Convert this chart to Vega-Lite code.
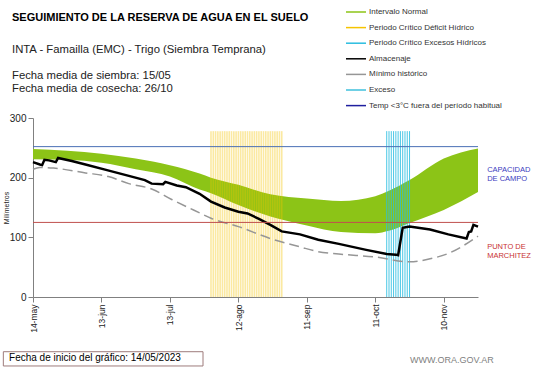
{
  "$schema": "https://vega.github.io/schema/vega-lite/v6.json",
  "autosize": {"type": "none"},
  "width": 445,
  "height": 179,
  "padding": {"left": 33, "top": 118, "right": 63, "bottom": 71},
  "background": "white",
  "config": {
    "view": {"stroke": null},
    "font": "Liberation Sans",
    "legend": {
      "orient": "none", "legendX": 312, "legendY": -117, "title": null,
      "labelFont": "Liberation Sans", "labelFontSize": 8, "labelColor": "#333",
      "symbolSize": 400, "symbolType": "stroke", "labelOffset": 2, "rowPadding": 0.6
    }
  },
  "title": {
    "text": "SEGUIMIENTO DE LA RESERVA DE AGUA  EN EL SUELO",
    "subtitle": ["INTA - Famailla (EMC) - Trigo (Siembra Temprana)", "\u200b", "Fecha media de siembra: 15/05", "Fecha media de cosecha: 26/10"],
    "anchor": "start", "frame": "group", "dx": -21, "offset": -93,
    "font": "Liberation Sans", "fontSize": 11, "fontWeight": "bold", "color": "#000",
    "subtitleFont": "Liberation Sans", "subtitleFontSize": 11.3, "subtitleColor": "#222",
    "subtitleLineHeight": 13, "subtitlePadding": 21
  },
  "datasets": {
    "uno": [{}],
    "banda": [
      {"d": "2023-05-14", "hi": 248, "lo": 231}, {"d": "2023-05-29", "hi": 245, "lo": 230},
      {"d": "2023-06-13", "hi": 240, "lo": 225}, {"d": "2023-06-28", "hi": 232, "lo": 214},
      {"d": "2023-07-13", "hi": 221, "lo": 202}, {"d": "2023-07-26", "hi": 207, "lo": 180},
      {"d": "2023-07-31", "hi": 200, "lo": 174}, {"d": "2023-08-12", "hi": 188, "lo": 154},
      {"d": "2023-08-26", "hi": 172, "lo": 135}, {"d": "2023-09-11", "hi": 165, "lo": 120},
      {"d": "2023-09-26", "hi": 161, "lo": 109}, {"d": "2023-10-11", "hi": 169, "lo": 107},
      {"d": "2023-10-17", "hi": 178, "lo": 111}, {"d": "2023-10-26", "hi": 196, "lo": 124},
      {"d": "2023-11-10", "hi": 232, "lo": 146}, {"d": "2023-11-25", "hi": 249, "lo": 176}
    ],
    "alm": [
      {"d": "2023-05-14", "v": 226}, {"d": "2023-05-17", "v": 222}, {"d": "2023-05-18", "v": 221},
      {"d": "2023-05-19", "v": 230}, {"d": "2023-05-21", "v": 229}, {"d": "2023-05-24", "v": 226},
      {"d": "2023-05-25", "v": 233}, {"d": "2023-05-31", "v": 228}, {"d": "2023-06-06", "v": 222},
      {"d": "2023-06-15", "v": 213}, {"d": "2023-06-25", "v": 203}, {"d": "2023-07-02", "v": 196},
      {"d": "2023-07-05", "v": 190}, {"d": "2023-07-10", "v": 189}, {"d": "2023-07-11", "v": 193},
      {"d": "2023-07-16", "v": 187}, {"d": "2023-07-20", "v": 184}, {"d": "2023-07-26", "v": 173},
      {"d": "2023-07-31", "v": 160}, {"d": "2023-08-06", "v": 150}, {"d": "2023-08-12", "v": 143},
      {"d": "2023-08-16", "v": 140}, {"d": "2023-08-21", "v": 131}, {"d": "2023-08-26", "v": 121},
      {"d": "2023-08-31", "v": 110}, {"d": "2023-09-08", "v": 105}, {"d": "2023-09-16", "v": 96},
      {"d": "2023-09-25", "v": 89}, {"d": "2023-10-07", "v": 79}, {"d": "2023-10-16", "v": 72},
      {"d": "2023-10-20", "v": 71}, {"d": "2023-10-21", "v": 70}, {"d": "2023-10-23", "v": 116},
      {"d": "2023-10-26", "v": 118}, {"d": "2023-11-04", "v": 113}, {"d": "2023-11-12", "v": 105},
      {"d": "2023-11-20", "v": 98}, {"d": "2023-11-21", "v": 109}, {"d": "2023-11-22", "v": 110},
      {"d": "2023-11-23", "v": 121}, {"d": "2023-11-25", "v": 118}
    ],
    "minimo": [
      {"d": "2023-05-14", "v": 214}, {"d": "2023-05-17", "v": 217}, {"d": "2023-05-23", "v": 216},
      {"d": "2023-06-06", "v": 208}, {"d": "2023-06-16", "v": 202}, {"d": "2023-06-25", "v": 190},
      {"d": "2023-07-05", "v": 181}, {"d": "2023-07-14", "v": 163}, {"d": "2023-07-26", "v": 141},
      {"d": "2023-07-31", "v": 132}, {"d": "2023-08-12", "v": 118}, {"d": "2023-08-26", "v": 98},
      {"d": "2023-09-08", "v": 84}, {"d": "2023-09-16", "v": 76}, {"d": "2023-09-25", "v": 72},
      {"d": "2023-10-11", "v": 67}, {"d": "2023-10-26", "v": 59}, {"d": "2023-11-04", "v": 64},
      {"d": "2023-11-12", "v": 73}, {"d": "2023-11-25", "v": 102}
    ],
    "deficit": [
      {"d": "2023-07-31"}, {"d": "2023-08-01"}, {"d": "2023-08-02"}, {"d": "2023-08-03"}, {"d": "2023-08-04"},
      {"d": "2023-08-05"}, {"d": "2023-08-06"}, {"d": "2023-08-07"}, {"d": "2023-08-08"}, {"d": "2023-08-09"},
      {"d": "2023-08-10"}, {"d": "2023-08-11"}, {"d": "2023-08-12"}, {"d": "2023-08-13"}, {"d": "2023-08-14"},
      {"d": "2023-08-15"}, {"d": "2023-08-16"}, {"d": "2023-08-17"}, {"d": "2023-08-18"}, {"d": "2023-08-19"},
      {"d": "2023-08-20"}, {"d": "2023-08-21"}, {"d": "2023-08-22"}, {"d": "2023-08-23"}, {"d": "2023-08-24"},
      {"d": "2023-08-25"}, {"d": "2023-08-26"}, {"d": "2023-08-27"}, {"d": "2023-08-28"}, {"d": "2023-08-29"},
      {"d": "2023-08-30"}, {"d": "2023-08-31"}
    ],
    "excesos": [
      {"d": "2023-10-16"}, {"d": "2023-10-17"}, {"d": "2023-10-18"}, {"d": "2023-10-19"}, {"d": "2023-10-20"},
      {"d": "2023-10-21"}, {"d": "2023-10-22"}, {"d": "2023-10-23"}, {"d": "2023-10-24"}, {"d": "2023-10-25"},
      {"d": "2023-10-26"}
    ]
  },
  "layer": [
    {
      "encoding": {
        "x": {
          "field": "d", "type": "temporal",
          "scale": {"type": "utc", "domain": [{"year": 2023, "month": 5, "date": 14, "utc": true}, {"year": 2023, "month": 11, "date": 25, "utc": true}]},
          "axis": {
            "title": null, "grid": false, "labelAngle": 270, "labelFontSize": 8.5, "labelColor": "#222",
            "labelOverlap": false, "labelBound": false, "labelPadding": 2, "tickSize": 5,
            "domainColor": "#808080", "tickColor": "#808080",
            "values": [
              {"year": 2023, "month": 5, "date": 14, "utc": true}, {"year": 2023, "month": 5, "date": 29, "utc": true},
              {"year": 2023, "month": 6, "date": 13, "utc": true}, {"year": 2023, "month": 6, "date": 28, "utc": true},
              {"year": 2023, "month": 7, "date": 13, "utc": true}, {"year": 2023, "month": 7, "date": 28, "utc": true},
              {"year": 2023, "month": 8, "date": 12, "utc": true}, {"year": 2023, "month": 8, "date": 27, "utc": true},
              {"year": 2023, "month": 9, "date": 11, "utc": true}, {"year": 2023, "month": 9, "date": 26, "utc": true},
              {"year": 2023, "month": 10, "date": 11, "utc": true}, {"year": 2023, "month": 10, "date": 26, "utc": true},
              {"year": 2023, "month": 11, "date": 10, "utc": true}, {"year": 2023, "month": 11, "date": 25, "utc": true}
            ],
            "labelExpr": "utcdate(datum.value) + '-' + ['ene','feb','mar','abr','may','jun','jul','ago','sep','oct','nov','dic'][utcmonth(datum.value)]"
          }
        }
      },
      "layer": [
        {
          "data": {"name": "banda"},
          "mark": {"type": "area", "interpolate": "monotone", "opacity": 1},
          "encoding": {
            "y": {
              "field": "hi", "type": "quantitative",
              "scale": {"domain": [0, 300], "nice": false},
              "axis": {
                "title": "Milímetros", "titleFontSize": 7, "titleFontWeight": "normal", "titleColor": "#222", "titlePadding": 0,
                "values": [0, 50, 100, 150, 200, 250, 300], "grid": false, "labelFontSize": 10, "labelColor": "#222",
                "tickSize": 5, "labelPadding": 2, "domainColor": "#808080", "tickColor": "#808080"
              }
            },
            "y2": {"field": "lo"},
            "color": {
              "datum": "Intervalo Normal",
              "scale": {
                "domain": ["Intervalo Normal", "Periodo Crítico Déficit Hídrico", "Periodo Crítico Excesos Hídricos", "Almacenaje", "Mínimo histórico", "Exceso", "Temp <3°C fuera del período habitual"],
                "range": ["#8cc417", "#f5c400", "#2bbde0", "#000000", "#969696", "#3fc0dc", "#1f1f9f"]
              },
              "legend": {
                "encode": {
                  "symbols": {
                    "shape": {"condition": [{"test": "datum.value == 'Exceso'", "value": "circle"}, {"test": "datum.value == 'Temp <3°C fuera del período habitual'", "value": "diamond"}], "value": "stroke"},
                    "size": {"condition": [{"test": "datum.value == 'Exceso'", "value": 7}, {"test": "datum.value == 'Temp <3°C fuera del período habitual'", "value": 14}], "value": 400},
                    "strokeWidth": {"condition": [{"test": "datum.index < 3", "value": 5}, {"test": "datum.value == 'Almacenaje'", "value": 2.5}, {"test": "datum.value == 'Mínimo histórico'", "value": 1.5}], "value": 0},
                    "fill": {"condition": [{"test": "datum.value == 'Exceso'", "value": "#3fc0dc"}, {"test": "datum.value == 'Temp <3°C fuera del período habitual'", "value": "#1f1f9f"}], "value": "transparent"}
                  }
                }
              }
            }
          }
        },
        {
          "data": {"name": "deficit"},
          "mark": {"type": "rule", "strokeWidth": 1.6, "opacity": 0.37},
          "encoding": {"y": {"datum": 0}, "y2": {"datum": 278}, "color": {"datum": "Periodo Crítico Déficit Hídrico"}}
        },
        {
          "data": {"name": "excesos"},
          "mark": {"type": "rule", "strokeWidth": 1, "opacity": 0.85},
          "encoding": {"y": {"datum": 0}, "y2": {"datum": 278}, "color": {"datum": "Periodo Crítico Excesos Hídricos"}}
        },
        {
          "data": {"name": "minimo"},
          "mark": {"type": "line", "interpolate": "monotone", "strokeWidth": 1.5, "strokeDash": [10, 5]},
          "encoding": {"y": {"field": "v", "type": "quantitative"}, "color": {"datum": "Mínimo histórico"}}
        },
        {
          "data": {"name": "alm"},
          "mark": {"type": "line", "strokeWidth": 2.5},
          "encoding": {"y": {"field": "v", "type": "quantitative"}, "color": {"datum": "Almacenaje"}}
        }
      ]
    },
    {
      "data": {"name": "uno"},
      "mark": {"type": "rule", "color": "#4a6fb5", "strokeWidth": 1},
      "encoding": {"y": {"datum": 252}}
    },
    {
      "data": {"name": "uno"},
      "mark": {"type": "rule", "color": "#c0504d", "strokeWidth": 1},
      "encoding": {"y": {"datum": 125}}
    },
    {
      "data": {"name": "uno"},
      "mark": {"type": "text", "clip": false, "text": ["CAPACIDAD", "DE  CAMPO"], "align": "left", "baseline": "middle", "fontSize": 7.5, "lineHeight": 9, "color": "#3b3bc0", "font": "Liberation Sans"},
      "encoding": {"x": {"datum": {"year": 2023, "month": 11, "date": 29, "utc": true}, "axis": {"labelOverlap": false}}, "y": {"datum": 213}}
    },
    {
      "data": {"name": "uno"},
      "mark": {"type": "text", "clip": false, "text": ["PUNTO   DE", "MARCHITEZ"], "align": "left", "baseline": "middle", "fontSize": 7.5, "lineHeight": 9, "color": "#c83232", "font": "Liberation Sans"},
      "encoding": {"x": {"datum": {"year": 2023, "month": 11, "date": 29, "utc": true}, "axis": {"labelOverlap": false}}, "y": {"datum": 84}}
    },
    {
      "data": {"name": "uno"},
      "mark": {"type": "rect", "clip": false, "fill": "white", "stroke": "#9e7b7b", "strokeWidth": 1},
      "encoding": {
        "x": {"datum": {"year": 2023, "month": 5, "date": 1, "utc": true}, "axis": {"labelOverlap": false}},
        "x2": {"datum": {"year": 2023, "month": 7, "date": 27, "hours": 12, "utc": true}},
        "y": {"datum": -91.7}, "y2": {"datum": -115.6}
      }
    },
    {
      "data": {"name": "uno"},
      "mark": {"type": "text", "clip": false, "text": "Fecha de inicio del gráfico:  14/05/2023", "align": "left", "baseline": "alphabetic", "fontSize": 10, "color": "#000", "font": "Liberation Sans"},
      "encoding": {"x": {"datum": {"year": 2023, "month": 5, "date": 3, "hours": 12, "utc": true}, "axis": {"labelOverlap": false}}, "y": {"datum": -107.3}}
    },
    {
      "data": {"name": "uno"},
      "mark": {"type": "text", "clip": false, "text": "WWW.ORA.GOV.AR", "align": "left", "baseline": "alphabetic", "fontSize": 9, "color": "#7f7f7f", "font": "Liberation Sans"},
      "encoding": {"x": {"datum": {"year": 2023, "month": 10, "date": 26, "hours": 5, "utc": true}, "axis": {"labelOverlap": false}}, "y": {"datum": -110.6}}
    }
  ]
}
